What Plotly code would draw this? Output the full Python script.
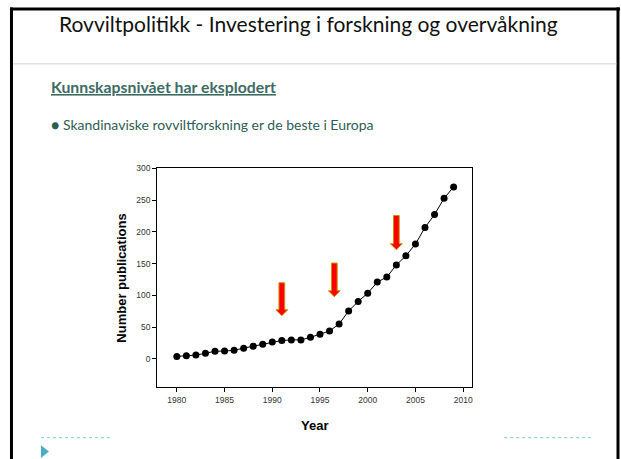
import plotly.graph_objects as go

# ---- data ----
years = list(range(1980, 2010))
publications = [4, 5, 6, 9, 12, 12.5, 13.5, 17, 20, 23,
                 26.5, 29, 30, 30, 34, 39, 44, 55, 75.5, 90.5,
                 103.5, 121, 129, 148, 162.5, 181, 207, 227.5, 253, 271]

arrow_x = [1991, 1996.5, 2003]
arrow_top = [120, 151, 226]
arrow_tip = [68, 98, 172]

x_ticks = [1980, 1985, 1990, 1995, 2000, 2005, 2010]
y_ticks = [0, 50, 100, 150, 200, 250, 300]

slide_title = "Rovviltpolitikk - Investering i forskning og overvåkning"
heading = "Kunnskapsnivået har eksplodert"
bullet = "Skandinaviske rovviltforskning er de beste i Europa"

W, H = 621, 459

fig = go.Figure()
fig.add_trace(go.Scatter(
    x=years, y=publications, mode="lines+markers",
    line=dict(color="black", width=1),
    marker=dict(color="black", size=7),
    showlegend=False, hoverinfo="x+y"))

shapes = []
# arrows (data coordinates)
shaft_hw = 0.30
head_hw = 0.62
head_h = 9.5
for ax, top, tip in zip(arrow_x, arrow_top, arrow_tip):
    neck = tip + head_h
    path = (f"M {ax-shaft_hw},{top} L {ax+shaft_hw},{top} L {ax+shaft_hw},{neck} "
            f"L {ax+head_hw},{neck} L {ax},{tip} L {ax-head_hw},{neck} "
            f"L {ax-shaft_hw},{neck} Z")
    shapes.append(dict(type="path", xref="x", yref="y", path=path,
                       fillcolor="#ff0000", line=dict(color="#c8900a", width=1)))

def px(x):
    return x / W

def py(y):
    return 1 - y / H

# slide border: top, left, right
shapes.append(dict(type="line", xref="paper", yref="paper", x0=px(10), x1=px(621),
                   y0=py(4), y1=py(4), line=dict(color="black", width=3)))
shapes.append(dict(type="line", xref="paper", yref="paper", x0=px(11.5), x1=px(11.5),
                   y0=py(2.5), y1=py(459), line=dict(color="black", width=3)))
shapes.append(dict(type="line", xref="paper", yref="paper", x0=px(619), x1=px(619),
                   y0=py(2.5), y1=py(459), line=dict(color="black", width=3)))
# separator under title
shapes.append(dict(type="line", xref="paper", yref="paper", x0=px(13), x1=px(617.5),
                   y0=py(59.5), y1=py(59.5), line=dict(color="#d4d4d4", width=1)))
# footer dashed lines
shapes.append(dict(type="line", xref="paper", yref="paper", x0=px(41), x1=px(110),
                   y0=py(437.5), y1=py(437.5), line=dict(color="#7ec8dc", width=1, dash="dot")))
shapes.append(dict(type="line", xref="paper", yref="paper", x0=px(505), x1=px(592),
                   y0=py(437.5), y1=py(437.5), line=dict(color="#7ec8dc", width=1, dash="dot")))
# footer triangle
shapes.append(dict(type="path", xref="paper", yref="paper",
                   path=f"M {px(41)},{py(445)} L {px(49)},{py(451.5)} L {px(41)},{py(458)} Z",
                   fillcolor="#4bacc6", line=dict(width=0)))

annotations = [
    dict(text=slide_title, x=px(309), y=py(19), xref="paper", yref="paper",
         showarrow=False, xanchor="center", yanchor="middle",
         font=dict(family="Lato", size=21, color="#111111")),
    dict(text=f"<b><u>{heading}</u></b>", x=px(49), y=py(82), xref="paper", yref="paper",
         showarrow=False, xanchor="left", yanchor="middle",
         font=dict(family="Lato", size=15.8, color="#3d6b64")),
    dict(text=f"● {bullet}", x=px(49), y=py(121), xref="paper", yref="paper",
         showarrow=False, xanchor="left", yanchor="middle",
         font=dict(family="Lato", size=14, color="#2e5d57")),
]

fig.update_layout(
    width=W, height=H,
    margin=dict(l=0, r=0, t=0, b=0),
    paper_bgcolor="white", plot_bgcolor="white",
    shapes=shapes, annotations=annotations,
    xaxis=dict(domain=[157.5 / W, 473 / W], range=[1977.95, 2010.95],
               tickvals=x_ticks, ticks="outside", ticklen=4, tickcolor="black",
               showline=True, linecolor="black", linewidth=1, mirror=True,
               showgrid=False, zeroline=False,
               tickfont=dict(family="Liberation Sans", size=8.5, color="#333333"),
               title=dict(text="<b>Year</b>", standoff=17,
                          font=dict(family="Liberation Sans", size=13, color="black"))),
    yaxis=dict(domain=[1 - 386.7 / H, 1 - 165.3 / H], range=[-45, 300],
               tickvals=y_ticks, ticks="outside", ticklen=4, tickcolor="black",
               showline=True, linecolor="black", linewidth=1, mirror=True,
               showgrid=False, zeroline=False,
               tickfont=dict(family="Liberation Sans", size=8.5, color="#333333"),
               title=dict(text="<b>Number publications</b>", standoff=6,
                          font=dict(family="Liberation Sans", size=13, color="black"))),
)

post = (
    "document.body.style.margin='0';"
    "document.body.style.overflow='hidden';"
    "var d=document.getElementById('{plot_id}');"
    "d.style.position='fixed';d.style.top='0px';d.style.left='0px';"
)
fig.write_html("out.html", post_script=post, config={"displayModeBar": False})
